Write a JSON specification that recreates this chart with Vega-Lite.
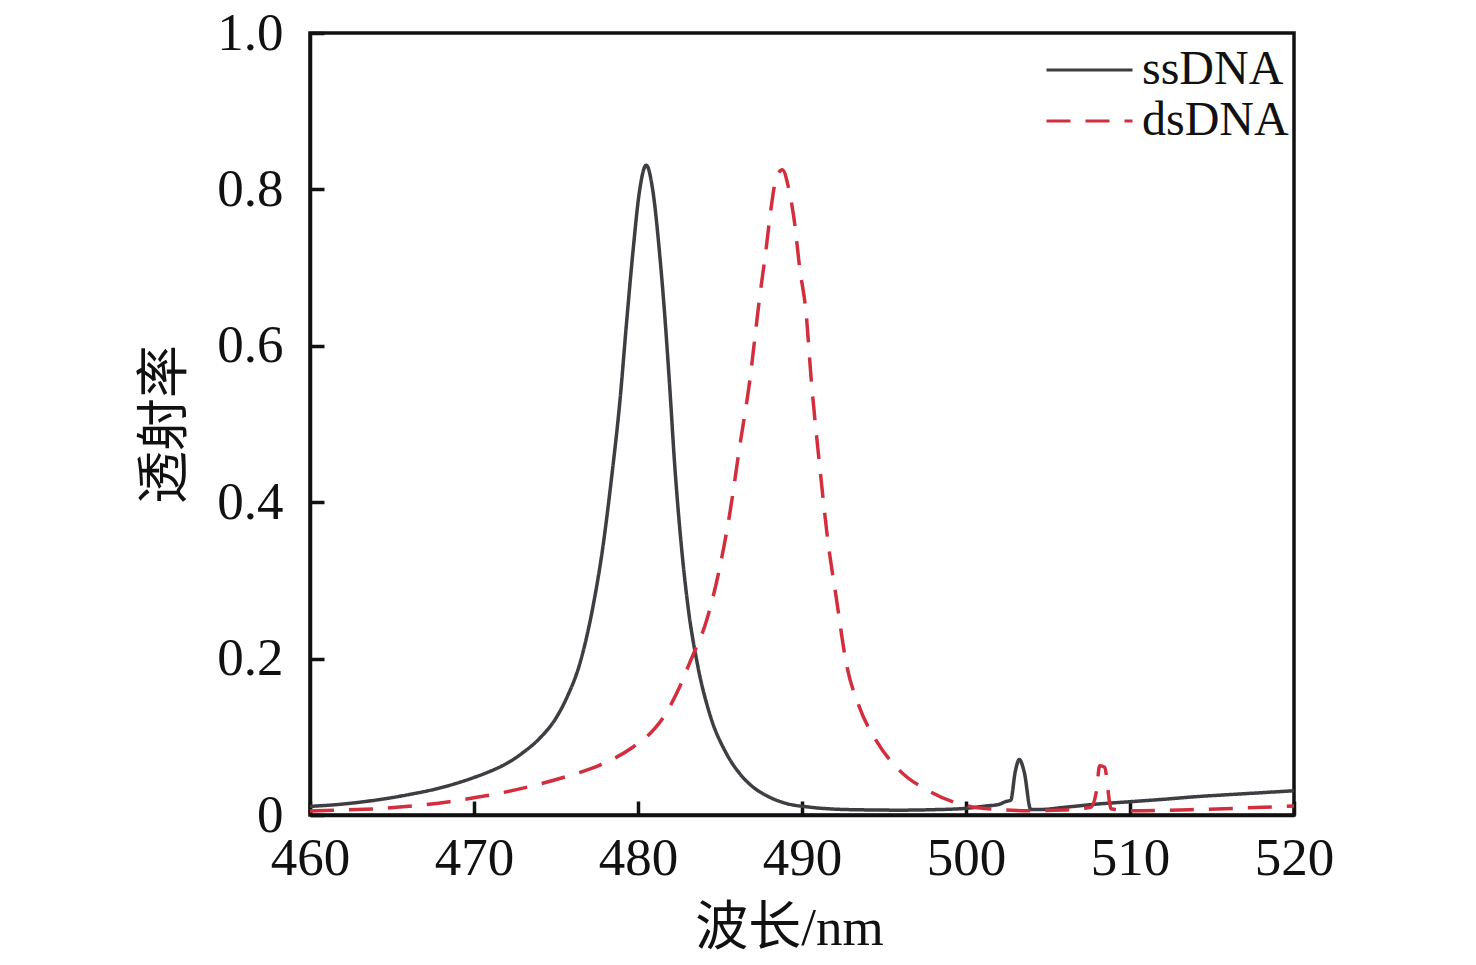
{
  "$schema": "https://vega.github.io/schema/vega-lite/v6.json",
  "width": 984,
  "height": 782,
  "autosize": {"type": "none"},
  "padding": {"left": 310, "top": 33, "right": 182, "bottom": 150},
  "background": "white",
  "config": {
    "view": {"stroke": "#111111", "strokeWidth": 3.5},
    "axis": {"grid": false, "domainColor": "#111111", "domainWidth": 3.5, "tickColor": "#111111", "tickWidth": 3.5, "tickSize": -14, "labelFont": "Liberation Serif", "labelFontSize": 53, "labelColor": "#111111", "titleFont": "Liberation Serif, Noto Sans CJK SC", "titleFontSize": 53, "titleFontWeight": "normal", "titleColor": "#111111", "labelFlush": false, "labelOverlap": false}
  },
  "data": {
    "values": [
      {"wl": 460, "T": 0.011, "series": "ssDNA"},
      {"wl": 462, "T": 0.014, "series": "ssDNA"},
      {"wl": 464, "T": 0.019, "series": "ssDNA"},
      {"wl": 466, "T": 0.026, "series": "ssDNA"},
      {"wl": 468, "T": 0.035, "series": "ssDNA"},
      {"wl": 470, "T": 0.048, "series": "ssDNA"},
      {"wl": 471, "T": 0.056, "series": "ssDNA"},
      {"wl": 472, "T": 0.066, "series": "ssDNA"},
      {"wl": 473, "T": 0.08, "series": "ssDNA"},
      {"wl": 474, "T": 0.098, "series": "ssDNA"},
      {"wl": 475, "T": 0.124, "series": "ssDNA"},
      {"wl": 475.7, "T": 0.152, "series": "ssDNA"},
      {"wl": 476.4, "T": 0.19, "series": "ssDNA"},
      {"wl": 477.25, "T": 0.266, "series": "ssDNA"},
      {"wl": 477.86, "T": 0.343, "series": "ssDNA"},
      {"wl": 478.37, "T": 0.428, "series": "ssDNA"},
      {"wl": 478.9, "T": 0.53, "series": "ssDNA"},
      {"wl": 479.3, "T": 0.629, "series": "ssDNA"},
      {"wl": 479.7, "T": 0.722, "series": "ssDNA"},
      {"wl": 480.1, "T": 0.799, "series": "ssDNA"},
      {"wl": 480.5, "T": 0.831, "series": "ssDNA"},
      {"wl": 480.9, "T": 0.799, "series": "ssDNA"},
      {"wl": 481.3, "T": 0.722, "series": "ssDNA"},
      {"wl": 481.62, "T": 0.642, "series": "ssDNA"},
      {"wl": 481.92, "T": 0.552, "series": "ssDNA"},
      {"wl": 482.23, "T": 0.45, "series": "ssDNA"},
      {"wl": 482.64, "T": 0.345, "series": "ssDNA"},
      {"wl": 483.04, "T": 0.268, "series": "ssDNA"},
      {"wl": 483.65, "T": 0.19, "series": "ssDNA"},
      {"wl": 484.36, "T": 0.13, "series": "ssDNA"},
      {"wl": 485.38, "T": 0.079, "series": "ssDNA"},
      {"wl": 486.2, "T": 0.053, "series": "ssDNA"},
      {"wl": 487.0, "T": 0.036, "series": "ssDNA"},
      {"wl": 488.0, "T": 0.023, "series": "ssDNA"},
      {"wl": 489.0, "T": 0.015, "series": "ssDNA"},
      {"wl": 490.5, "T": 0.01, "series": "ssDNA"},
      {"wl": 492.0, "T": 0.0075, "series": "ssDNA"},
      {"wl": 494, "T": 0.0065, "series": "ssDNA"},
      {"wl": 496, "T": 0.0062, "series": "ssDNA"},
      {"wl": 498, "T": 0.0068, "series": "ssDNA"},
      {"wl": 500, "T": 0.0085, "series": "ssDNA"},
      {"wl": 501.2, "T": 0.0115, "series": "ssDNA"},
      {"wl": 502.0, "T": 0.0135, "series": "ssDNA"},
      {"wl": 502.4, "T": 0.017, "series": "ssDNA"},
      {"wl": 502.73, "T": 0.019, "series": "ssDNA"},
      {"wl": 503.0, "T": 0.055, "series": "ssDNA"},
      {"wl": 503.25, "T": 0.071, "series": "ssDNA"},
      {"wl": 503.55, "T": 0.055, "series": "ssDNA"},
      {"wl": 503.95, "T": 0.007, "series": "ssDNA"},
      {"wl": 504.5, "T": 0.007, "series": "ssDNA"},
      {"wl": 506, "T": 0.0098, "series": "ssDNA"},
      {"wl": 508, "T": 0.014, "series": "ssDNA"},
      {"wl": 510, "T": 0.017, "series": "ssDNA"},
      {"wl": 512, "T": 0.02, "series": "ssDNA"},
      {"wl": 514, "T": 0.0234, "series": "ssDNA"},
      {"wl": 516, "T": 0.026, "series": "ssDNA"},
      {"wl": 518, "T": 0.0285, "series": "ssDNA"},
      {"wl": 520, "T": 0.031, "series": "ssDNA"},
      {"wl": 460, "T": 0.005, "series": "dsDNA"},
      {"wl": 462, "T": 0.0065, "series": "dsDNA"},
      {"wl": 464.5, "T": 0.0085, "series": "dsDNA"},
      {"wl": 466.5, "T": 0.012, "series": "dsDNA"},
      {"wl": 468.5, "T": 0.017, "series": "dsDNA"},
      {"wl": 470, "T": 0.022, "series": "dsDNA"},
      {"wl": 471.6, "T": 0.028, "series": "dsDNA"},
      {"wl": 473.5, "T": 0.037, "series": "dsDNA"},
      {"wl": 475.6, "T": 0.049, "series": "dsDNA"},
      {"wl": 477.7, "T": 0.064, "series": "dsDNA"},
      {"wl": 479.7, "T": 0.087, "series": "dsDNA"},
      {"wl": 481, "T": 0.11, "series": "dsDNA"},
      {"wl": 481.7, "T": 0.13, "series": "dsDNA"},
      {"wl": 482.5, "T": 0.162, "series": "dsDNA"},
      {"wl": 483.2, "T": 0.197, "series": "dsDNA"},
      {"wl": 484.2, "T": 0.25, "series": "dsDNA"},
      {"wl": 485.0, "T": 0.318, "series": "dsDNA"},
      {"wl": 485.6, "T": 0.386, "series": "dsDNA"},
      {"wl": 486.2, "T": 0.471, "series": "dsDNA"},
      {"wl": 486.8, "T": 0.553, "series": "dsDNA"},
      {"wl": 487.4, "T": 0.659, "series": "dsDNA"},
      {"wl": 487.8, "T": 0.722, "series": "dsDNA"},
      {"wl": 488.1, "T": 0.774, "series": "dsDNA"},
      {"wl": 488.4, "T": 0.812, "series": "dsDNA"},
      {"wl": 488.8, "T": 0.825, "series": "dsDNA"},
      {"wl": 489.2, "T": 0.8, "series": "dsDNA"},
      {"wl": 489.55, "T": 0.757, "series": "dsDNA"},
      {"wl": 489.85, "T": 0.701, "series": "dsDNA"},
      {"wl": 490.25, "T": 0.642, "series": "dsDNA"},
      {"wl": 490.55, "T": 0.56, "series": "dsDNA"},
      {"wl": 491.06, "T": 0.45, "series": "dsDNA"},
      {"wl": 491.57, "T": 0.352, "series": "dsDNA"},
      {"wl": 492.08, "T": 0.279, "series": "dsDNA"},
      {"wl": 492.7, "T": 0.194, "series": "dsDNA"},
      {"wl": 493.5, "T": 0.138, "series": "dsDNA"},
      {"wl": 494.5, "T": 0.096, "series": "dsDNA"},
      {"wl": 495.9, "T": 0.058, "series": "dsDNA"},
      {"wl": 497.8, "T": 0.03, "series": "dsDNA"},
      {"wl": 499.8, "T": 0.013, "series": "dsDNA"},
      {"wl": 502, "T": 0.007, "series": "dsDNA"},
      {"wl": 504, "T": 0.0055, "series": "dsDNA"},
      {"wl": 506, "T": 0.0064, "series": "dsDNA"},
      {"wl": 507.6, "T": 0.0098, "series": "dsDNA"},
      {"wl": 507.95, "T": 0.03, "series": "dsDNA"},
      {"wl": 508.15, "T": 0.063, "series": "dsDNA"},
      {"wl": 508.45, "T": 0.061, "series": "dsDNA"},
      {"wl": 508.85, "T": 0.008, "series": "dsDNA"},
      {"wl": 510, "T": 0.0055, "series": "dsDNA"},
      {"wl": 512, "T": 0.006, "series": "dsDNA"},
      {"wl": 514, "T": 0.007, "series": "dsDNA"},
      {"wl": 517, "T": 0.009, "series": "dsDNA"},
      {"wl": 520, "T": 0.0115, "series": "dsDNA"}
    ]
  },
  "mark": {"type": "line", "strokeWidth": 3.5, "interpolate": "monotone"},
  "encoding": {
    "x": {
      "field": "wl", "type": "quantitative",
      "scale": {"domain": [460, 520], "nice": false, "zero": false},
      "axis": {"title": "波长/nm", "values": [460, 470, 480, 490, 500, 510, 520], "labelPadding": 31, "titleX": 479, "titleY": 113, "titleBaseline": "middle", "titleAlign": "center"}
    },
    "y": {
      "field": "T", "type": "quantitative",
      "scale": {"domain": [0, 1], "nice": false},
      "axis": {"title": "透射率", "values": [0, 0.2, 0.4, 0.6, 0.8, 1.0], "labelExpr": "datum.value == 0 ? '0' : format(datum.value, '.1f')", "labelPadding": 41, "titleX": -145, "titleY": 391, "titleAngle": -90, "titleBaseline": "middle", "titleAlign": "center"}
    },
    "color": {
      "field": "series", "type": "nominal",
      "scale": {"domain": ["ssDNA", "dsDNA"], "range": ["#3d3d42", "#d22e3e"]},
      "legend": {"title": null, "orient": "none", "legendX": 735, "legendY": 17, "symbolType": "stroke", "symbolSize": 7396, "symbolStrokeWidth": 3, "clipHeight": 40, "rowPadding": 3, "labelOffset": 8, "labelFont": "Liberation Serif", "labelFontSize": 48, "labelColor": "#111111", "padding": 0}
    },
    "strokeDash": {
      "field": "series", "type": "nominal",
      "scale": {"domain": ["ssDNA", "dsDNA"], "range": [[1, 0], [24, 15]]},
      "legend": {"title": null, "orient": "none", "legendX": 735, "legendY": 17, "symbolType": "stroke", "symbolSize": 7396, "symbolStrokeWidth": 3, "clipHeight": 40, "rowPadding": 3, "labelOffset": 8, "labelFont": "Liberation Serif", "labelFontSize": 48, "labelColor": "#111111", "padding": 0}
    }
  }
}
